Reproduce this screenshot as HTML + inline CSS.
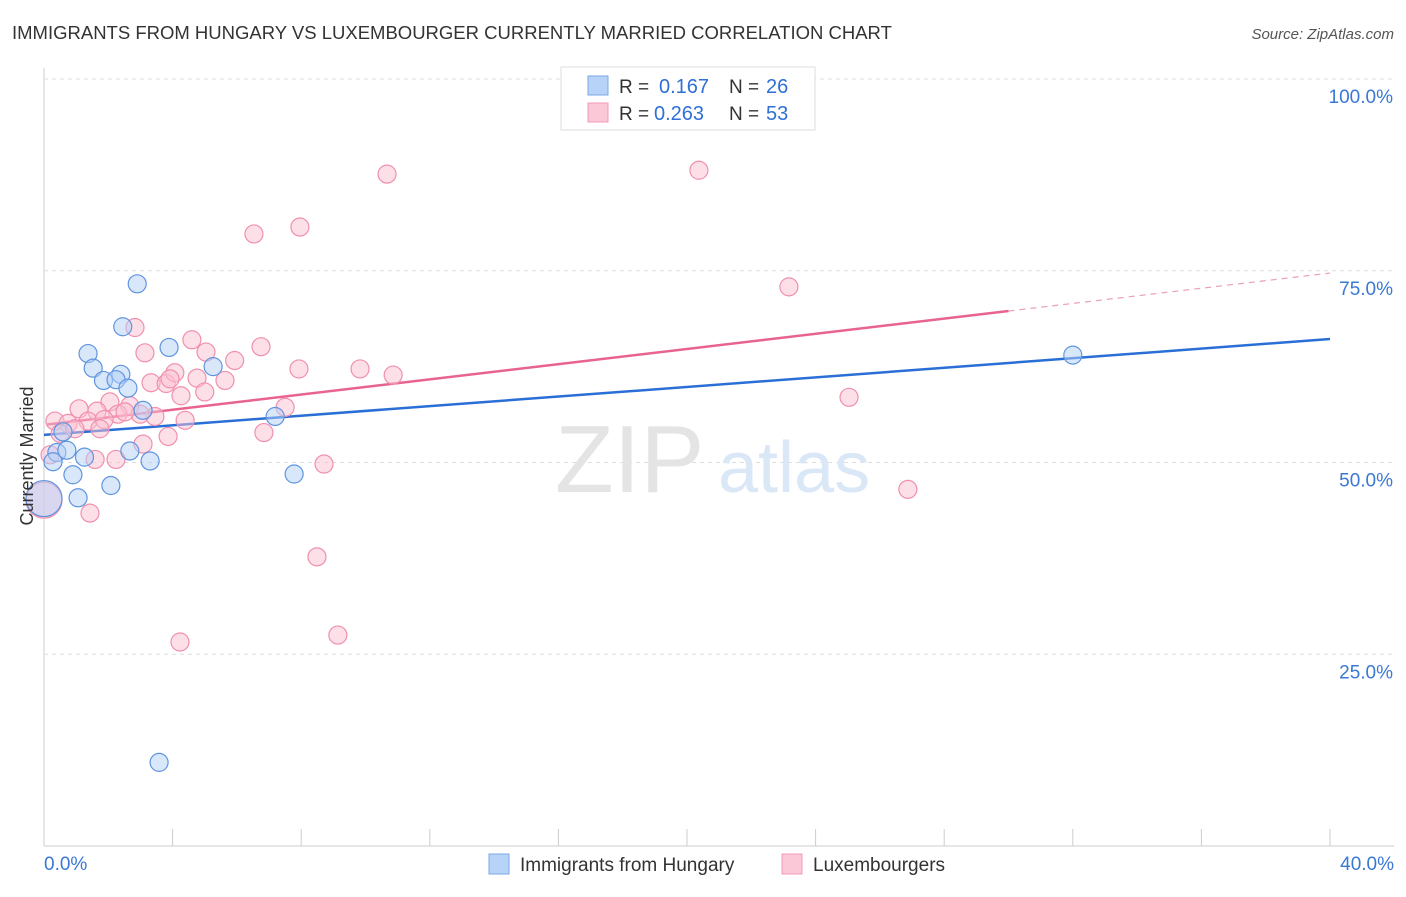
<!DOCTYPE html>
<html><head><meta charset="utf-8"><style>
body{margin:0;background:#fff;font-family:"Liberation Sans",sans-serif;}
svg text{font-family:"Liberation Sans",sans-serif;}
</style></head><body>
<svg id="chart" width="1406" height="892" xmlns="http://www.w3.org/2000/svg">
<text x="12" y="39" font-size="18.5" fill="#333">IMMIGRANTS FROM HUNGARY VS LUXEMBOURGER CURRENTLY MARRIED CORRELATION CHART</text>
<text x="1394" y="39" font-size="15" fill="#555" font-style="italic" text-anchor="end">Source: ZipAtlas.com</text>
<g id="grid"></g>
<text x="555" y="492" font-size="96" fill="#e4e4e4" font-family="Liberation Serif">ZIP</text>
<text x="718" y="492" font-size="72" fill="#dae7f6">atlas</text>
<g id="lines"></g>
<g id="points"></g>
<text transform="translate(33,456) rotate(-90)" font-size="18" fill="#333" text-anchor="middle">Currently Married</text>
<g>
<rect x="561" y="67" width="254" height="63" fill="#fff" stroke="#ddd"/>
<rect x="588" y="76" width="20" height="19" fill="#b7d3f7" stroke="#7aa7e6"/>
<rect x="588" y="103" width="20" height="19" fill="#fbc8d7" stroke="#f09ab5"/>
<text x="619" y="93" font-size="19" fill="#333">R = </text><text x="659" y="93" font-size="20" fill="#2f6fd6">0.167</text>
<text x="729" y="93" font-size="19" fill="#333">N = </text><text x="766" y="93" font-size="20" fill="#2f6fd6">26</text>
<text x="619" y="120" font-size="19" fill="#333">R = </text><text x="654" y="120" font-size="20" fill="#2f6fd6">0.263</text>
<text x="729" y="120" font-size="19" fill="#333">N = </text><text x="766" y="120" font-size="20" fill="#2f6fd6">53</text>
</g>
<g>
<rect x="489" y="854" width="20" height="20" fill="#b7d3f7" stroke="#7aa7e6"/>
<text x="520" y="871" font-size="19" fill="#333">Immigrants from Hungary</text>
<rect x="782" y="854" width="20" height="20" fill="#fbc8d7" stroke="#f09ab5"/>
<text x="813" y="871" font-size="19" fill="#333">Luxembourgers</text>
</g>
</svg>
<script>
const xTickLabels=["0.0%","40.0%"];
const yTicks=[25,50,75,100];
const yTickLabels=["25.0%","50.0%","75.0%","100.0%"];
const blueX=[2.9,2.45,1.37,1.53,2.39,1.85,2.24,2.61,3.89,5.26,3.08,7.19,0.4,0.71,1.26,2.67,3.3,0.28,0.9,1.06,2.08,7.78,32.0,3.58,0,0.59];
const blueY=[73.3,67.7,64.2,62.3,61.5,60.7,60.8,59.7,65.0,62.5,56.8,56.0,51.3,51.6,50.7,51.5,50.2,50.1,48.4,45.4,47.0,48.5,64.0,10.9,45.3,54.0];
const pinkX=[2.83,3.14,4.6,5.04,5.93,6.75,3.33,3.8,4.07,4.76,5.63,4.26,5.0,7.93,9.83,10.86,2.05,2.67,1.09,0.34,1.65,2.3,1.37,1.87,3.45,4.39,3.86,3.08,7.5,6.84,1.59,2.24,8.71,1.43,0,6.53,7.96,10.67,20.37,23.17,25.04,26.87,8.49,9.14,4.23,0.75,0.5,0.96,1.74,2.99,2.52,3.92,0.19];
const pinkY=[67.6,64.3,66.0,64.4,63.3,65.1,60.4,60.3,61.7,61.0,60.7,58.7,59.2,62.2,62.2,61.4,57.9,57.4,57.0,55.4,56.7,56.3,55.4,55.6,56.0,55.5,53.4,52.4,57.2,53.9,50.4,50.4,49.8,43.4,45.1,79.8,80.7,87.6,88.1,72.9,58.5,46.5,37.7,27.5,26.6,55.1,53.8,54.4,54.4,56.3,56.6,60.9,51.0];
const blueLine=[53.6,66.1];
const pinkLine=[54.9,74.7];
const pinkSolidEnd=30;
const NS="http://www.w3.org/2000/svg";
const X=v=>44+v/40*1286;
const Y=v=>846-v/100*767;
function mk(t,a,p){const e=document.createElementNS(NS,t);for(const k in a)e.setAttribute(k,a[k]);p.appendChild(e);return e;}
const grid=document.getElementById('grid');
mk('line',{x1:44,y1:68,x2:44,y2:846,stroke:'#ccc'},grid);
mk('line',{x1:44,y1:846,x2:1394,y2:846,stroke:'#ccc'},grid);
yTicks.forEach((t,i)=>{
 const g=mk('line',{x1:44,y1:Y(t),x2:1394,y2:Y(t),stroke:'#ddd','stroke-dasharray':'4,4'},grid);
 
 
 const tx=mk('text',{x:1393,y:Y(t)+24,'font-size':19,fill:'#3a78d4','text-anchor':'end'},grid);
 tx.textContent=yTickLabels[i];
 
 
});
for(let i=1;i<=10;i++){const l=mk('line',{x1:X(i*4),y1:829,x2:X(i*4),y2:846,stroke:'#ccc'},grid);
 
 }
[[0,'start',44],[40,'end',1394]].forEach((d,i)=>{const t=mk('text',{x:d[2],y:870,'font-size':19,fill:'#3a78d4','text-anchor':d[1]},grid);t.textContent=xTickLabels[i];
 
 });
const pts=document.getElementById('points');
function dots(xs,ys,fill,stroke,name){xs.forEach((x,i)=>{const big=x===0;
 const c=mk('circle',{cx:X(x),cy:Y(ys[i]),r:big?18:9,fill:fill,'fill-opacity':0.5,stroke:stroke,'stroke-width':1.2},pts);
 
 });}
dots(pinkX,pinkY,'#fbc0d2','#f090ad','point-luxembourgers');
dots(blueX,blueY,'#b3d0f5','#5f95e0','point-hungary');
const ln=document.getElementById('lines');
const bl=mk('line',{x1:X(0),y1:Y(blueLine[0]),x2:X(40),y2:Y(blueLine[1]),stroke:'#2a6fd6','stroke-width':2.5},ln);


const py=v=>pinkLine[0]+(pinkLine[1]-pinkLine[0])*v/40;
const pl=mk('line',{x1:X(0.1),y1:Y(py(0.1)),x2:X(pinkSolidEnd),y2:Y(py(pinkSolidEnd)),stroke:'#e8638f','stroke-width':2.5},ln);


const pd=mk('line',{x1:X(pinkSolidEnd),y1:Y(py(pinkSolidEnd)),x2:X(40),y2:Y(py(40)),stroke:'#e8a0b8','stroke-width':1.2,'stroke-dasharray':'6,5'},ln);


</script>
</body></html>
